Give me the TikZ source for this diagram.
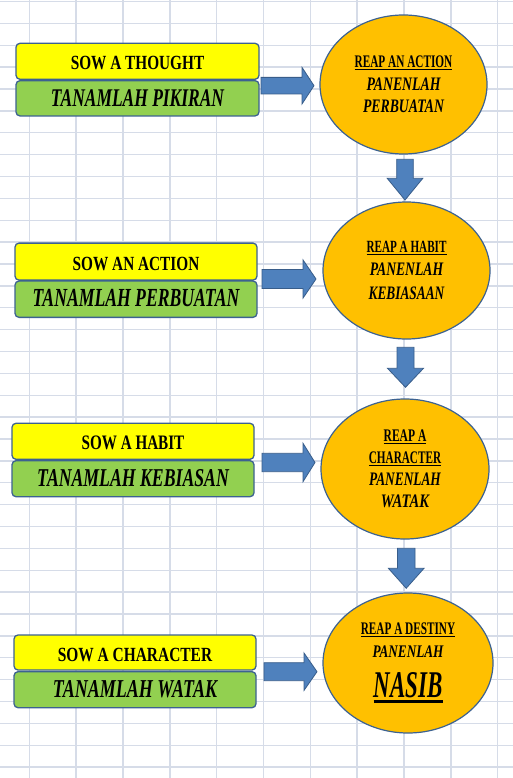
\documentclass[tikz,border=0pt]{standalone}
\usepackage{fontspec}
\setmainfont{Liberation Serif}
\usepackage{graphicx}
\usetikzlibrary{shapes.geometric}
\definecolor{gridc}{RGB}{214,220,232}
\definecolor{ybox}{RGB}{255,255,0}
\definecolor{gbox}{RGB}{146,208,80}
\definecolor{orng}{RGB}{255,192,0}
\definecolor{bord}{RGB}{60,98,145}
\definecolor{arrf}{RGB}{79,129,189}
\definecolor{arrd}{RGB}{56,93,138}
\newcommand\fitup[3]{\resizebox{#1pt}{#2pt}{\bfseries #3}}
\newcommand\fitit[3]{\resizebox{#1pt}{#2pt}{\bfseries\itshape #3}}
\newcommand\fitul[3]{\underline{\resizebox{#1pt}{#2pt}{\bfseries #3}}}
\newcommand\rarr[6]{\draw[blockarr] (#1,{#4-#5}) -- (#3,{#4-#5}) -- (#3,{#4-#6}) -- (#2,#4) -- (#3,{#4+#6}) -- (#3,{#4+#5}) -- (#1,{#4+#5}) -- cycle;}
\newcommand\darr[6]{\draw[blockarr] ({#1-#5},#2) -- ({#1-#5},#4) -- ({#1-#6},#4) -- (#1,#3) -- ({#1+#6},#4) -- ({#1+#5},#4) -- ({#1+#5},#2) -- cycle;}
\tikzset{
  gridline/.style={draw=gridc,line width=1.4pt},
  sbox/.style={rectangle,rounded corners=4pt,draw=bord,line width=1.3pt,inner sep=0pt,minimum width=#1},
  ysow/.style={sbox=#1,fill=ybox,minimum height=36pt,text height=17pt,text depth=0pt},
  gsow/.style={sbox=#1,fill=gbox,minimum height=36pt,text height=15.5pt,text depth=0pt},
  reap/.style={ellipse,draw=bord,line width=1.2pt,fill=orng,inner sep=0pt,align=center,
    font=\fontsize{18}{22.7}\selectfont},
  blockarr/.style={fill=arrf,draw=arrd,line width=0.8pt},
}
\begin{document}
\begin{tikzpicture}[x=1pt,y=-1pt]
\useasboundingbox (0,0) rectangle (513,778);
\fill[white] (0,0) rectangle (513,778);
\foreach \k in {0,...,35} \draw[gridline] (0,{1.5+21.875*\k}) -- (513,{1.5+21.875*\k});
\foreach \k in {0,...,10} \draw[gridline] ({29.3+46.84*\k},0) -- ({29.3+46.84*\k},778);

% block arrows
\rarr{261}{314}{302}{85.7}{8.3}{18.3}
\rarr{262}{316}{303}{279}{9.5}{19.1}
\rarr{262}{315}{303}{462.5}{9.2}{19.2}
\rarr{264}{317}{304}{671.7}{9}{18.7}
\darr{405}{159.3}{200}{178.3}{8.3}{17.8}
\darr{405.5}{347.3}{387.3}{368.3}{8.5}{18}
\darr{406.2}{548.3}{588.3}{568.3}{8.8}{17.8}

% sow boxes
\node[ysow=243pt,minimum height=36pt] (s1) at (137.5,61.3) {\fitup{133.4}{13.3}{SOW A THOUGHT}};
\node[gsow=243pt,minimum height=35.3pt] (t1) at (137.5,98.3) {\fitit{173}{16.8}{TANAMLAH PIKIRAN}};
\node[ysow=242pt,minimum height=37pt] (s2) at (136,261.6) {\fitup{126.6}{13.3}{SOW AN ACTION}};
\node[gsow=242pt,minimum height=36.3pt] (t2) at (136,299.2) {\fitit{206.7}{17.2}{TANAMLAH PERBUATAN}};
\node[ysow=242pt] (s3) at (133,441.3) {\fitup{102.7}{13.6}{SOW A HABIT}};
\node[gsow=242pt] (t3) at (133,478.7) {\fitit{191.7}{17}{TANAMLAH KEBIASAN}};
\node[ysow=242pt,minimum height=35pt] (s4) at (135,652.5) {\fitup{154.3}{13.3}{SOW A CHARACTER}};
\node[gsow=242pt] (t4) at (135,689.7) {\fitit{164}{17}{TANAMLAH WATAK}};

% reap ellipses
\node[reap,minimum width=167pt,minimum height=139pt] (r1) at (403.5,84.5)
  {\fitul{97.7}{11.7}{REAP AN ACTION}\\\fitit{74}{12.6}{PANENLAH}\\\fitit{81}{12.6}{PERBUATAN}};
\node[reap,minimum width=167pt,minimum height=137pt] (r2) at (406.5,270.5)
  {\fitul{80}{11.3}{REAP A HABIT}\\\fitit{73.3}{12.6}{PANENLAH}\\[0.8pt]\fitit{75.7}{12.6}{KEBIASAAN}};
\node[reap,minimum width=168pt,minimum height=140pt,font=\fontsize{18}{22}\selectfont] (r3) at (405,469)
  {\fitul{42.7}{11.7}{REAP A}\\\fitul{72.3}{11.7}{CHARACTER}\\\fitit{71.7}{12.6}{PANENLAH}\\\fitit{48.3}{12.6}{WATAK}};
\node[reap,minimum width=170pt,minimum height=140pt] (r4) at (408,663)
  {\fitul{94.3}{11.7}{REAP A DESTINY}\\\fitit{71}{11.7}{PANENLAH}\\[14.6pt]%
   \vtop{\hbox{\fitit{69}{25}{NASIB}}\kern1.8pt\hrule height 3.6pt}};
\end{tikzpicture}
\end{document}
